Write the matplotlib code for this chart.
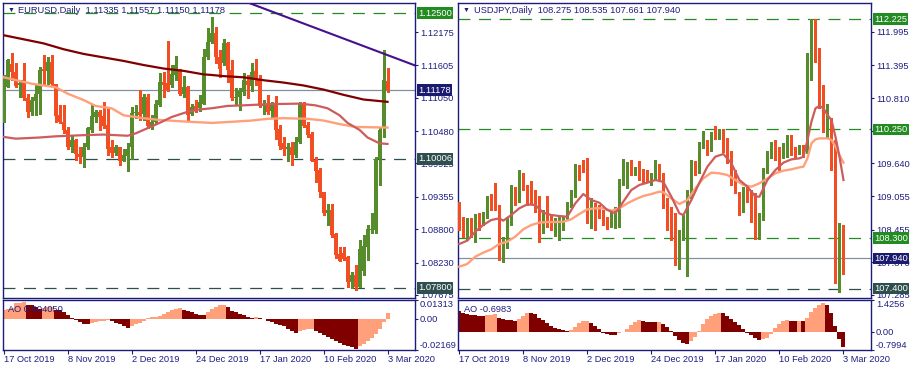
import matplotlib.pyplot as plt
import matplotlib.transforms as mtransforms
import numpy as np

plt.rcParams['font.family'] = ['Liberation Sans', 'DejaVu Sans']
plt.rcParams['font.size'] = 6.7
plt.rcParams['lines.scale_dashes'] = False

W, H = 916, 370
NAVY = '#1c1c78'
TXT = '#1e1e82'
BULL = '#568c2c'
BEAR = '#f24e24'
MAROON = '#800000'
SALMON = '#ffa07a'
INDRED = '#cd5c5c'
PURPLE = '#44108c'
GREENLINE = '#228b22'
SLATE = '#2f4f4f'
CURLINE = '#8090a0'
CURBOX = '#1a1a6e'

date_ticks = [0, 16, 32, 48, 64, 80, 96]
date_labels = ['17 Oct 2019', '8 Nov 2019', '2 Dec 2019', '24 Dec 2019',
               '17 Jan 2020', '10 Feb 2020', '3 Mar 2020']

# ---------------- EURUSD daily ----------------
eu_open = [1.1067, 1.1124, 1.1163, 1.1149, 1.1126, 1.1135, 1.1104, 1.1081, 1.1100, 1.1112,
           1.1154, 1.1151, 1.1167, 1.1128, 1.1075, 1.1064, 1.1050, 1.1021, 1.1033, 1.1009,
           1.1004, 1.1020, 1.1050, 1.1072, 1.1081, 1.1074, 1.1058, 1.1020, 1.1011, 1.1020,
           1.0997, 1.1005, 1.1020, 1.1079, 1.1081, 1.1078, 1.1106, 1.1054, 1.1064, 1.1092,
           1.1132, 1.1131, 1.1127, 1.1144, 1.1152, 1.1112, 1.1123, 1.1078, 1.1091, 1.1087,
           1.1095, 1.1174, 1.1201, 1.1215, 1.1174, 1.1164, 1.1198, 1.1152, 1.1104, 1.1106,
           1.1114, 1.1133, 1.1125, 1.1151, 1.1135, 1.1091, 1.1094, 1.1083, 1.1092, 1.1051,
           1.1028, 1.1017, 1.1021, 1.1007, 1.1030, 1.1094, 1.1058, 1.1043, 1.0998, 1.0981,
           1.0943, 1.0908, 1.0913, 1.0872, 1.0837, 1.0839, 1.0833, 1.0789, 1.0802, 1.0782,
           1.0809, 1.0850, 1.0879, 1.0879, 1.1001, 1.1053, 1.11335]
eu_high = [1.1144, 1.1172, 1.1181, 1.1164, 1.1135, 1.1165, 1.1112, 1.1107, 1.1129, 1.1158,
           1.1178, 1.1175, 1.1178, 1.1129, 1.1092, 1.1092, 1.1055, 1.1041, 1.1035, 1.1021,
           1.1027, 1.1055, 1.1092, 1.1084, 1.1084, 1.1098, 1.1087, 1.1033, 1.1024, 1.1021,
           1.1018, 1.1027, 1.1090, 1.1092, 1.1118, 1.1112, 1.1112, 1.1075, 1.1101, 1.1147,
           1.1149, 1.1202, 1.1161, 1.1176, 1.1155, 1.1142, 1.1125, 1.1095, 1.1101, 1.1110,
           1.1189, 1.1224, 1.1243, 1.1226, 1.1186, 1.1206, 1.1201, 1.1169, 1.1121, 1.1121,
           1.1147, 1.1144, 1.1164, 1.1172, 1.1144, 1.1102, 1.1110, 1.1098, 1.1108, 1.1058,
           1.1037, 1.1027, 1.1030, 1.1037, 1.1098, 1.1098, 1.1064, 1.1047, 1.1004, 1.0984,
           1.0944, 1.0924, 1.0923, 1.0873, 1.0850, 1.0850, 1.0834, 1.0807, 1.0819, 1.0862,
           1.0870, 1.0887, 1.0907, 1.1004, 1.1055, 1.1187, 1.11557]
eu_low = [1.1064, 1.1123, 1.1135, 1.1123, 1.1107, 1.1101, 1.1072, 1.1075, 1.1075, 1.1078,
          1.1127, 1.1129, 1.1127, 1.1064, 1.1062, 1.1044, 1.1018, 1.1013, 1.0998, 1.0993,
          1.0987, 1.1018, 1.1047, 1.1064, 1.1050, 1.1053, 1.1007, 1.1004, 1.1007, 1.0990,
          1.0996, 1.0980, 1.1001, 1.1070, 1.1067, 1.1067, 1.1053, 1.1051, 1.1061, 1.1091,
          1.1107, 1.1117, 1.1123, 1.1135, 1.1110, 1.1107, 1.1067, 1.1075, 1.1081, 1.1083,
          1.1095, 1.1172, 1.1198, 1.1164, 1.1141, 1.1161, 1.1132, 1.1101, 1.1092, 1.1084,
          1.1110, 1.1104, 1.1117, 1.1127, 1.1090, 1.1078, 1.1078, 1.1070, 1.1035, 1.1018,
          1.1007, 1.0996, 1.0990, 1.1004, 1.1028, 1.1055, 1.1038, 1.0996, 1.0961, 1.0936,
          1.0904, 1.0887, 1.0867, 1.0830, 1.0825, 1.0827, 1.0782, 1.0779, 1.0776, 1.0781,
          1.0802, 1.0827, 1.0873, 1.0873, 1.0955, 1.1038, 1.11150]
eu_close = [1.1141, 1.1169, 1.1149, 1.1125, 1.1131, 1.1104, 1.1081, 1.1101, 1.1112, 1.1153,
            1.1151, 1.1167, 1.1128, 1.1074, 1.1064, 1.1049, 1.1020, 1.1033, 1.1009, 1.1004,
            1.1021, 1.1054, 1.1074, 1.1080, 1.1072, 1.1057, 1.1018, 1.1010, 1.1021, 1.0997,
            1.1007, 1.1017, 1.1079, 1.1081, 1.1075, 1.1107, 1.1057, 1.1064, 1.1094, 1.1132,
            1.1127, 1.1119, 1.1145, 1.1161, 1.1112, 1.1123, 1.1075, 1.1090, 1.1084, 1.1098,
            1.1174, 1.1201, 1.1215, 1.1174, 1.1155, 1.1198, 1.1152, 1.1104, 1.1107, 1.1117,
            1.1135, 1.1127, 1.1149, 1.1135, 1.1091, 1.1092, 1.1081, 1.1092, 1.1050, 1.1022,
            1.1017, 1.1021, 1.1007, 1.1030, 1.1095, 1.1057, 1.1041, 1.0997, 1.0980, 1.0943,
            1.0908, 1.0913, 1.0870, 1.0836, 1.0826, 1.0829, 1.0789, 1.0802, 1.0782, 1.0847,
            1.0851, 1.0880, 1.0881, 1.1001, 1.1050, 1.1135, 1.11178]

eu_ma_slow_x = [0, 5, 10, 15, 20, 25, 30, 35, 40, 45, 50, 52, 55, 60, 65, 70, 75, 80, 85, 90, 96]
eu_ma_slow = [1.1212, 1.1205, 1.1198, 1.1188, 1.1180, 1.1174, 1.1168, 1.1161, 1.1155, 1.1151,
              1.1145, 1.1144, 1.1142, 1.1140, 1.1135, 1.1131, 1.1126, 1.1119, 1.1110, 1.1102, 1.1098]
eu_ma_mid_x = [0, 7, 13, 16, 20, 23, 27, 30, 35, 39, 46, 52, 55, 62, 66, 70, 76, 80, 84, 88, 96]
eu_ma_mid = [1.1140, 1.1129, 1.1123, 1.1112, 1.1101, 1.1091, 1.1087, 1.1075, 1.1070, 1.1067,
             1.1064, 1.1062, 1.1063, 1.1066, 1.1069, 1.1070, 1.1069, 1.1066, 1.1060, 1.1055, 1.1054]
eu_ma_fast_x = [0, 3, 9, 13, 20, 25, 31, 33, 36, 39, 42, 46, 49, 52, 56, 60, 66, 74, 78, 81,
                84, 86, 89, 91, 94, 96]
eu_ma_fast = [1.1038, 1.1035, 1.1037, 1.1039, 1.1041, 1.1042, 1.1040, 1.1044, 1.1053, 1.1062,
              1.1072, 1.1081, 1.1085, 1.1087, 1.1091, 1.1092, 1.1094, 1.1095, 1.1092, 1.1087,
              1.1075, 1.1062, 1.1050, 1.1037, 1.1027, 1.1026]
eu_trend_x = [61.4, 102.6]
eu_trend_y = [1.12671, 1.11610]
eu_levels = [1.12500, 1.10006, 1.07800]
eu_level_colors = [GREENLINE, SLATE, SLATE]
eu_ticks = [1.12175, 1.11605, 1.11050, 1.10480, 1.09925, 1.09355, 1.08800, 1.08230, 1.07675]
eu_ylim = (1.07632, 1.12680)

eu_ao = [0.00642, 0.00692, 0.00741, 0.01087, 0.01136, 0.01161, 0.00988, 0.00939, 0.00815, 0.00692,
         0.00741, 0.00790, 0.00815, 0.00642, 0.00593, 0.00445, 0.00247, 0.00074, -0.00099, -0.00247,
         -0.00371, -0.00395, -0.00296, -0.00247, -0.00198, -0.00148, -0.00124, -0.00198, -0.00296, -0.00395,
         -0.00494, -0.00667, -0.00494, -0.00371, -0.00296, -0.00198, 0.00049, 0.00099, 0.00148, 0.00198,
         0.00296, 0.00445, 0.00593, 0.00692, 0.00716, 0.00642, 0.00543, 0.00445, 0.00346, 0.00272,
         0.00247, 0.00494, 0.00692, 0.00840, 0.00939, 0.00963, 0.00840, 0.00543, 0.00445, 0.00346,
         0.00247, 0.00099, 0.00049, 0.00148, 0.00025, -0.00049, -0.00148, -0.00247, -0.00346, -0.00445,
         -0.00543, -0.00692, -0.00840, -0.00988, -0.00889, -0.00790, -0.00741, -0.00716, -0.00840, -0.00988,
         -0.01136, -0.01284, -0.01433, -0.01581, -0.01729, -0.01853, -0.01951, -0.02025, -0.02100, -0.01927,
         -0.01778, -0.01581, -0.01334, -0.01087, -0.00741, -0.00247, 0.004050]
eu_ao_lim = (-0.02169, 0.01313)

# ---------------- USDJPY daily ----------------
uj_open = [108.759, 108.628, 108.419, 108.598, 108.478, 108.699, 108.568, 108.699, 108.986, 108.896,
           108.867, 108.001, 108.150, 108.568, 109.177, 108.974, 109.296, 109.213, 109.058, 108.998,
           108.837, 108.401, 108.777, 108.687, 108.520, 108.616, 108.598, 108.658, 108.914, 109.058,
           109.553, 109.535, 109.523, 108.628, 108.867, 108.855, 108.735, 108.610, 108.538, 108.538,
           108.538, 109.296, 109.225, 109.553, 109.476, 109.535, 109.434, 109.434, 109.344, 109.374,
           109.595, 109.416, 108.879, 108.759, 108.568, 107.792, 108.341, 108.419, 109.046, 109.523,
           109.494, 109.941, 110.001, 109.893, 110.180, 110.090, 110.210, 109.881, 109.834, 109.512,
           108.926, 108.896, 109.093, 109.016, 108.956, 108.299, 108.658, 109.523, 109.822, 110.013,
           109.792, 109.750, 109.774, 110.120, 109.851, 109.846, 109.881, 109.852, 111.374, 112.138,
           111.284, 110.670, 110.192, 110.419, 109.595, 107.386, 108.275]
uj_high = [108.956, 108.687, 108.658, 108.658, 108.735, 108.747, 108.777, 109.058, 109.093, 109.296,
           108.896, 108.329, 108.687, 109.255, 109.225, 109.523, 109.464, 109.255, 109.332, 109.165,
           109.058, 108.807, 109.058, 108.735, 108.658, 108.675, 108.687, 108.956, 109.165, 109.631,
           109.613, 109.702, 109.732, 109.016, 108.926, 108.896, 108.807, 108.687, 108.807, 108.855,
           109.356, 109.714, 109.672, 109.702, 109.583, 109.690, 109.535, 109.523, 109.464, 109.702,
           109.631, 109.464, 109.016, 108.867, 108.747, 108.449, 108.717, 109.165, 109.703, 109.691,
           110.031, 110.228, 110.061, 110.210, 110.311, 110.252, 110.252, 110.090, 109.869, 109.523,
           109.135, 109.225, 109.255, 109.165, 109.105, 108.747, 109.553, 109.869, 110.031, 110.061,
           109.941, 110.001, 110.150, 110.150, 109.941, 109.971, 109.971, 111.625, 112.225, 112.222,
           111.702, 111.046, 110.705, 110.449, 110.061, 108.580, 108.535]
uj_low = [108.449, 108.329, 108.270, 108.329, 108.240, 108.449, 108.538, 108.658, 108.807, 108.807,
          107.911, 107.882, 108.120, 108.538, 108.896, 108.956, 109.165, 108.896, 108.926, 108.777,
          108.240, 108.389, 108.508, 108.449, 108.341, 108.270, 108.449, 108.628, 108.867, 109.034,
          109.344, 109.493, 108.568, 108.478, 108.449, 108.658, 108.538, 108.466, 108.508, 108.478,
          108.496, 109.255, 109.195, 109.434, 109.434, 109.344, 109.296, 109.314, 109.255, 109.344,
          109.344, 108.837, 108.449, 108.270, 107.822, 107.744, 108.270, 107.625, 109.016, 109.434,
          109.464, 109.911, 109.792, 109.869, 110.072, 110.072, 109.851, 109.643, 109.255, 109.105,
          108.717, 108.777, 108.956, 108.598, 108.281, 108.281, 108.628, 109.464, 109.732, 109.702,
          109.523, 109.732, 109.750, 109.792, 109.762, 109.810, 109.762, 109.822, 111.135, 111.464,
          110.628, 110.210, 110.120, 109.523, 107.493, 107.344, 107.661]
uj_close = [108.461, 108.359, 108.598, 108.478, 108.699, 108.580, 108.658, 108.986, 108.896, 108.837,
            108.001, 108.150, 108.568, 109.165, 108.974, 109.296, 109.225, 109.046, 108.986, 108.819,
            108.401, 108.777, 108.676, 108.520, 108.616, 108.640, 108.640, 108.914, 109.058, 109.535,
            109.523, 109.511, 108.628, 108.956, 108.628, 108.735, 108.568, 108.538, 108.717, 108.735,
            109.314, 109.356, 109.553, 109.476, 109.535, 109.356, 109.356, 109.392, 109.392, 109.613,
            109.392, 108.867, 108.568, 108.568, 108.079, 108.377, 108.437, 109.105, 109.523, 109.452,
            109.953, 110.013, 109.893, 110.168, 110.108, 110.210, 109.869, 109.834, 109.494, 109.255,
            108.896, 109.153, 108.998, 108.956, 108.299, 108.687, 109.535, 109.834, 110.001, 109.732,
            109.702, 109.810, 110.108, 109.822, 109.822, 109.893, 109.863, 111.386, 112.120, 111.565,
            110.729, 110.270, 110.419, 109.583, 108.061, 108.299, 107.940]

uj_ma_fast_x = [0, 2, 4, 6, 8, 10, 11, 13, 15, 17, 19, 21, 23, 25, 27, 29, 31, 33, 35, 37,
                39, 41, 43, 45, 47, 49, 51, 53, 55, 56, 58, 60, 62, 64, 66, 68, 70, 72, 74, 75,
                77, 79, 81, 83, 85, 86, 87, 88, 89, 90, 91, 92, 93, 94, 95, 96]
uj_ma_fast = [108.198, 108.258, 108.419, 108.538, 108.628, 108.658, 108.616, 108.717, 108.837, 108.908,
              108.896, 108.759, 108.717, 108.699, 108.687, 108.926, 109.093, 108.986, 108.938, 108.807,
              108.747, 108.956, 109.165, 109.255, 109.296, 109.344, 109.310, 109.046, 108.747, 108.717,
              108.986, 109.296, 109.583, 109.762, 109.810, 109.643, 109.344, 109.225, 109.046, 109.046,
              109.344, 109.523, 109.655, 109.714, 109.732, 109.762, 110.061, 110.389, 110.628, 110.670,
              110.628, 110.508, 110.419, 110.120, 109.762, 109.344]
uj_ma_slow_x = [0, 2, 4, 6, 8, 10, 12, 14, 16, 18, 20, 22, 24, 26, 28, 30, 32, 34, 36, 38,
                40, 42, 44, 46, 48, 50, 51, 53, 55, 57, 59, 61, 63, 65, 67, 69, 71, 73, 75, 77,
                79, 81, 83, 85, 86, 87, 88, 89, 90, 92, 93, 94, 95, 96]
uj_ma_slow = [107.792, 107.840, 107.971, 108.043, 108.102, 108.198, 108.240, 108.329, 108.461, 108.538,
              108.580, 108.592, 108.592, 108.598, 108.640, 108.735, 108.819, 108.837, 108.837, 108.795,
              108.837, 108.926, 108.998, 109.058, 109.093, 109.135, 109.125, 109.016, 108.914, 108.986,
              109.195, 109.374, 109.476, 109.464, 109.434, 109.344, 109.255, 109.225, 109.284, 109.374,
              109.464, 109.512, 109.535, 109.571, 109.583, 109.732, 110.001, 110.072, 110.090, 110.090,
              110.061, 109.941, 109.792, 109.655]
uj_levels = [112.225, 110.250, 108.300, 107.400]
uj_level_colors = [GREENLINE, GREENLINE, GREENLINE, SLATE]
uj_ticks = [111.995, 111.395, 110.810, 110.225, 109.640, 109.055, 108.455, 107.870, 107.285]
uj_ylim = (107.240, 112.523)

uj_ao = [0.930, 0.825, 0.795, 0.765, 0.750, 0.720, 0.705, 0.735, 0.750, 0.795,
         0.615, 0.555, 0.525, 0.510, 0.495, 0.585, 0.705, 0.840, 0.825, 0.795,
         0.615, 0.525, 0.375, 0.255, 0.180, 0.120, 0.090, 0.045, 0.075, 0.225,
         0.375, 0.465, 0.495, 0.405, 0.255, 0.105, -0.060, -0.105, -0.150, -0.165,
         -0.075, -0.010, 0.135, 0.285, 0.435, 0.510, 0.465, 0.450, 0.435, 0.420,
         0.450, 0.360, 0.225, 0.030, -0.195, -0.375, -0.495, -0.570, -0.420, -0.255,
         0.030, 0.330, 0.555, 0.705, 0.795, 0.855, 0.825, 0.705, 0.585, 0.435,
         0.285, 0.105, -0.045, -0.165, -0.270, -0.390, -0.345, -0.300, -0.120, 0.180,
         0.360, 0.465, 0.510, 0.495, 0.480, 0.495, 0.465, 0.630, 0.885, 1.050,
         1.215, 1.275, 1.185, 0.855, 0.255, -0.345, -0.6983]
uj_ao_lim = (-0.7994, 1.4256)


def add_ax(fig, x0, y0, x1, y1):
    # pixel box (from top-left) -> figure fraction
    return fig.add_axes([x0 / W, 1 - y1 / H, (x1 - x0) / W, (y1 - y0) / H])


def style_frame(ax):
    for s in ax.spines.values():
        s.set_color(NAVY)
        s.set_linewidth(1.0)
    ax.tick_params(colors=NAVY, labelcolor=TXT, direction='out', length=2.2, width=0.8, pad=1.6)


def draw_candles(ax, o, h, l, c, min_body):
    o, h, l, c = map(np.asarray, (o, h, l, c))
    x = np.arange(len(o))
    cols = np.where(c >= o, BULL, BEAR)
    ax.vlines(x, l, h, colors=cols, lw=0.75, antialiased=False, zorder=3)
    body = np.maximum(np.abs(c - o), min_body)
    ax.bar(x, body, bottom=np.minimum(o, c), width=0.72, color=cols, linewidth=0,
           antialiased=False, zorder=4)


def price_tag(ax, level, text, bg):
    trans = mtransforms.blended_transform_factory(ax.transAxes, ax.transData)
    trans = trans + mtransforms.ScaledTranslation(0.035, 0, ax.figure.dpi_scale_trans)
    ax.text(1.0, level, text, transform=trans, ha='left', va='center', color='white',
            fontsize=6.7, clip_on=False, zorder=20,
            bbox=dict(boxstyle='square,pad=0.15', fc=bg, ec='none'))


def main_panel(fig, x0, x1, o, h, l, c, ylim, ticks, fmt, levels, level_colors, min_body):
    ax = add_ax(fig, x0, 2.5, x1, 297.5)
    ax.set_xlim(-0.3, 102.75)
    ax.set_ylim(*ylim)
    ax.set_xticks([])
    ax.yaxis.tick_right()
    ax.set_yticks(ticks, [fmt.format(t) for t in ticks])
    style_frame(ax)
    for lv, col in zip(levels, level_colors):
        ax.axhline(lv, color=col, lw=0.9, dashes=(8.6, 6.2), zorder=2)
        price_tag(ax, lv, fmt.format(lv), col)
    ax.axhline(c[-1], color=CURLINE, lw=0.9, zorder=2)
    price_tag(ax, c[-1], fmt.format(c[-1]), CURBOX)
    draw_candles(ax, o, h, l, c, min_body)
    return ax


def ao_panel(fig, x0, x1, vals, lim, fmt, first_up):
    ax = add_ax(fig, x0, 300, x1, 349.5)
    vals = np.asarray(vals)
    x = np.arange(len(vals))
    up = np.r_[first_up, vals[1:] > vals[:-1]]
    ax.bar(x, vals, width=1.0, color=np.where(up, SALMON, MAROON), linewidth=0, antialiased=False)
    ax.set_xlim(-0.3, 102.75)
    ax.set_ylim(*lim)
    ax.yaxis.tick_right()
    yt = [lim[0], 0.0, lim[1]]
    ax.set_yticks(yt, [fmt.format(lim[0]), '0.00', fmt.format(lim[1])])
    ax.set_xticks(date_ticks, date_labels)
    style_frame(ax)
    ax.tick_params(axis='x', length=3.0, pad=1.2)
    for lab in ax.get_xticklabels():
        lab.set_ha('left')
    yt_objs = ax.yaxis.get_major_ticks()
    yt_objs[0].label2.set_va('bottom')
    yt_objs[-1].label2.set_va('top')
    return ax


fig = plt.figure(figsize=(W / 100, H / 100), dpi=100)
fig.patch.set_facecolor('white')

# left: EURUSD
axl = main_panel(fig, 2.5, 414.5, eu_open, eu_high, eu_low, eu_close, eu_ylim, eu_ticks,
                 '{:.5f}', eu_levels, eu_level_colors, 0.00012)
axl.plot(eu_ma_slow_x, eu_ma_slow, color=MAROON, lw=1.6, zorder=5)
axl.plot(eu_ma_mid_x, eu_ma_mid, color=SALMON, lw=1.7, zorder=5)
axl.plot(eu_ma_fast_x, eu_ma_fast, color=INDRED, lw=1.6, zorder=5)
axl.axline((eu_trend_x[0], eu_trend_y[0]), (eu_trend_x[1], eu_trend_y[1]), color=PURPLE, lw=1.5, zorder=6)
ao_panel(fig, 2.5, 414.5, eu_ao, eu_ao_lim, '{:.5f}', True)

# right: USDJPY
axr = main_panel(fig, 458, 870.5, uj_open, uj_high, uj_low, uj_close, uj_ylim, uj_ticks,
                 '{:.3f}', uj_levels, uj_level_colors, 0.012)
axr.plot(uj_ma_slow_x, uj_ma_slow, color=SALMON, lw=1.7, zorder=5)
axr.plot(uj_ma_fast_x, uj_ma_fast, color=INDRED, lw=1.6, zorder=5)
ao_panel(fig, 458, 870.5, uj_ao, uj_ao_lim, '{:.4f}', False)

# chart headers
eu_head = 'EURUSD,Daily  ' + ' '.join('{:.5f}'.format(v) for v in
                                      (eu_open[-1], eu_high[-1], eu_low[-1], eu_close[-1]))
uj_head = 'USDJPY,Daily  ' + ' '.join('{:.3f}'.format(v) for v in
                                      (uj_open[-1], uj_high[-1], uj_low[-1], uj_close[-1]))
for x0, head, ao_txt in ((2.5, eu_head, 'AO {:.6f}'.format(eu_ao[-1])),
                         (458, uj_head, 'AO {:.4f}'.format(uj_ao[-1]))):
    fig.text((x0 + 5) / W, 1 - 10.5 / H, '\u25bc', fontsize=5, color=TXT, va='center')
    fig.text((x0 + 16) / W, 1 - 10.5 / H, head, color=TXT, va='center')
    fig.text((x0 + 6) / W, 1 - 309.5 / H, ao_txt, color=TXT, va='center')

fig.savefig('out.png', dpi=100)
